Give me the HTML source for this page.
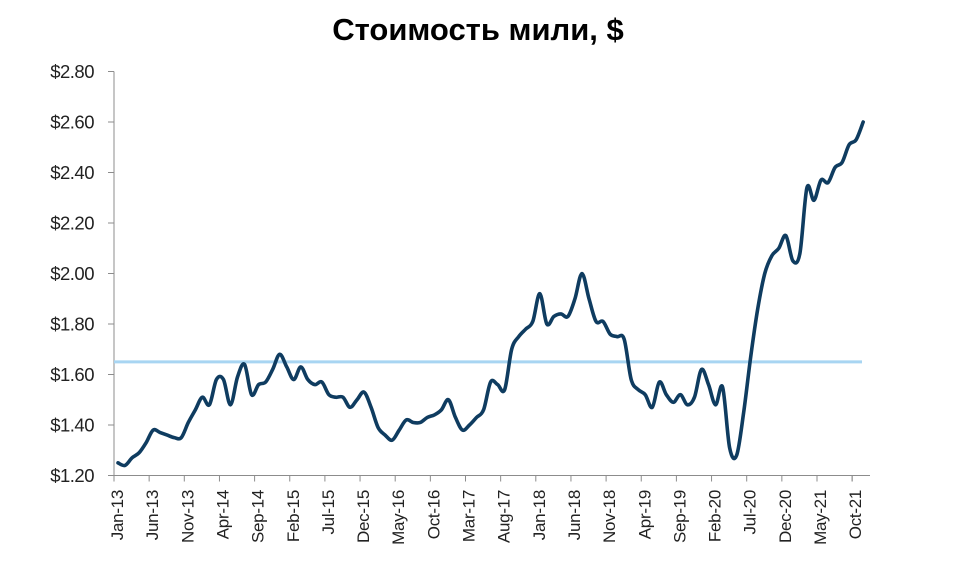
<!DOCTYPE html>
<html><head><meta charset="utf-8"><style>
body{margin:0;background:#fff;width:964px;height:582px;overflow:hidden}
svg{display:block}
</style></head><body>
<svg id="chart" width="964" height="582" xmlns="http://www.w3.org/2000/svg" font-family="Liberation Sans, Arial, sans-serif">
<text x="478" y="40" text-anchor="middle" font-size="31" font-weight="bold" fill="#000">Стоимость мили, $</text>
<g id="axes"></g>
<g id="plot"></g>
</svg>
<script>
const yTicks=[1.2,1.4,1.6,1.8,2.0,2.2,2.4,2.6,2.8];
const xLabels=["Jan-13","Jun-13","Nov-13","Apr-14","Sep-14","Feb-15","Jul-15","Dec-15","May-16","Oct-16","Mar-17","Aug-17","Jan-18","Jun-18","Nov-18","Apr-19","Sep-19","Feb-20","Jul-20","Dec-20","May-21","Oct-21"];
const values=[1.25,1.24,1.27,1.29,1.33,1.38,1.37,1.36,1.35,1.35,1.41,1.46,1.51,1.48,1.58,1.58,1.48,1.59,1.64,1.52,1.56,1.57,1.62,1.68,1.63,1.58,1.63,1.58,1.56,1.57,1.52,1.51,1.51,1.47,1.50,1.53,1.47,1.39,1.36,1.34,1.38,1.42,1.41,1.41,1.43,1.44,1.46,1.50,1.43,1.38,1.40,1.43,1.46,1.57,1.56,1.54,1.70,1.75,1.78,1.81,1.92,1.80,1.83,1.84,1.83,1.90,2.00,1.90,1.81,1.81,1.76,1.75,1.74,1.58,1.54,1.52,1.47,1.57,1.52,1.49,1.52,1.48,1.51,1.62,1.56,1.48,1.55,1.31,1.28,1.45,1.67,1.86,2.00,2.07,2.10,2.15,2.05,2.08,2.34,2.29,2.37,2.36,2.42,2.44,2.51,2.53,2.60];
const refValue=[1.65];

const NS="http://www.w3.org/2000/svg";
const X0=114,X1=870,Y0=475.5,PXPER=252.5,MONTH=7.03;
const yS=v=>Y0-(v-1.2)*PXPER;
const xS=m=>118+m*MONTH;
function mk(tag,attrs,parent){const e=document.createElementNS(NS,tag);for(const k in attrs)e.setAttribute(k,attrs[k]);parent.appendChild(e);return e;}
const axes=document.getElementById('axes'),plot=document.getElementById('plot');

let ya=mk('line',{x1:X0,y1:yS(2.8),x2:X0,y2:Y0,stroke:'#8c8c8c','stroke-width':1},axes);


let xa=mk('line',{x1:X0,y1:Y0,x2:X1,y2:Y0,stroke:'#8c8c8c','stroke-width':1},axes);



yTicks.forEach(v=>{
  const y=yS(v);
  mk('line',{x1:X0-6,y1:y,x2:X0,y2:y,stroke:'#8c8c8c'},axes);
  const t=mk('text',{x:94,y:y+6.5,'text-anchor':'end','font-size':18.5,fill:'#222','letter-spacing':'-0.5'},axes);
  t.textContent='$'+v.toFixed(2);
  
  
});
xLabels.forEach((l,i)=>{
  const x=X0+i*35.15;
  mk('line',{x1:x,y1:Y0,x2:x,y2:Y0+6,stroke:'#8c8c8c'},axes);
  const t=mk('text',{x:0,y:0,'text-anchor':'end','font-size':17,fill:'#222','letter-spacing':'-0.3',transform:`translate(${x+9},490) rotate(-90)`},axes);
  t.textContent=l;
  
  
});
mk('line',{x1:X0+35.15*21,y1:Y0,x2:X0+35.15*21,y2:Y0+6,stroke:'#8c8c8c'},axes);

const ref=mk('line',{x1:X0,y1:yS(refValue[0]),x2:862,y2:yS(refValue[0]),stroke:'#a8d5f2','stroke-width':3},plot);



const pts=values.map((v,i)=>[xS(i),yS(v)]);
let d=`M${pts[0][0]},${pts[0][1]}`;
for(let i=0;i<pts.length-1;i++){
  const p0=pts[Math.max(0,i-1)],p1=pts[i],p2=pts[i+1],p3=pts[Math.min(pts.length-1,i+2)];
  const c1=[p1[0]+(p2[0]-p0[0])/6,p1[1]+(p2[1]-p0[1])/6];
  const c2=[p2[0]-(p3[0]-p1[0])/6,p2[1]-(p3[1]-p1[1])/6];
  d+=`C${c1[0]},${c1[1]} ${c2[0]},${c2[1]} ${p2[0]},${p2[1]}`;
}
const line=mk('path',{d:d,fill:'none',stroke:'#0f3c60','stroke-width':3.6,'stroke-linejoin':'round','stroke-linecap':'round'},plot);


</script>
</body></html>
